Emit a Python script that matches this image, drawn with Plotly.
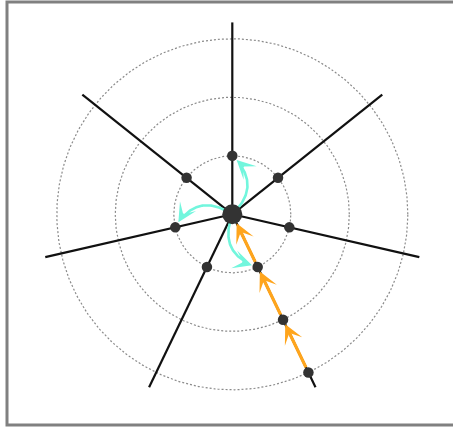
import numpy as np
import plotly.graph_objects as go

# ---- data ----
spoke_angles_deg = [90, 38.6, -12.9, -64.3, -115.7, -167.1, 141.4]
ring_radii = [1, 2, 3]
spoke_length = 3.28
node_spoke = [0, 1, 2, 3, 4, 5, 6, 3, 3]
node_ring = [1, 1, 1, 1, 1, 1, 1, 2, 3]
orange_spoke = 3
orange_rings = [3, 2, 1, 0]
cyan_target_spokes = [0, 5, 3]
cyan_target_ring = 1

# ---- layout geometry ----
W, H = 453, 427
PX = 58.5
CX, CY = 232.3, 214.3

def pos(spoke, r):
    a = np.deg2rad(spoke_angles_deg[spoke])
    return r * np.cos(a), r * np.sin(a)

fig = go.Figure()

# dotted rings
th = np.linspace(0, 2 * np.pi, 400)
for r in ring_radii:
    fig.add_trace(go.Scatter(x=r * np.cos(th), y=r * np.sin(th), mode="lines",
                             line=dict(color="#8a8a8a", width=1.2, dash="2px,2px"),
                             hoverinfo="skip", showlegend=False))

# spokes
for i in range(len(spoke_angles_deg)):
    x1, y1 = pos(i, spoke_length)
    fig.add_trace(go.Scatter(x=[0, x1], y=[0, y1], mode="lines",
                             line=dict(color="#111111", width=2.2),
                             hoverinfo="skip", showlegend=False))

# cyan curved arrows
cyan = "#72f6dd"
annotations = []
for s in cyan_target_spokes:
    tx, ty = pos(s, cyan_target_ring)
    mx, my = tx / 2, ty / 2
    L = np.hypot(tx, ty)
    px_, py_ = ty / L, -tx / L  # right-hand perpendicular
    k = 0.52 * L
    cx_, cy_ = mx + px_ * k, my + py_ * k
    t = np.linspace(0.05, 0.84, 60)
    bx = 2 * (1 - t) * t * cx_ + t ** 2 * tx
    by = 2 * (1 - t) * t * cy_ + t ** 2 * ty
    fig.add_trace(go.Scatter(x=bx, y=by, mode="lines",
                             line=dict(color=cyan, width=2.6),
                             hoverinfo="skip", showlegend=False))
    dx, dy = tx - cx_, ty - cy_
    dl = np.hypot(dx, dy)
    annotations.append(dict(x=tx, y=ty, ax=tx - dx / dl * 0.3, ay=ty - dy / dl * 0.3,
                            xref="x", yref="y", axref="x", ayref="y", text="",
                            showarrow=True, arrowhead=3, arrowsize=1.2,
                            arrowwidth=2.6, arrowcolor=cyan, standoff=6))

# orange arrows along one spoke
orange = "#ffa51c"
for a, b in zip(orange_rings[:-1], orange_rings[1:]):
    x0, y0 = pos(orange_spoke, a)
    x1, y1 = pos(orange_spoke, b)
    annotations.append(dict(x=x1, y=y1, ax=x0, ay=y0, xref="x", yref="y",
                            axref="x", ayref="y", text="", showarrow=True,
                            arrowhead=3, arrowsize=1.0, arrowwidth=3.2,
                            arrowcolor=orange,
                            standoff=10 if b == 0 else 5, startstandoff=4))

# nodes
nx = [pos(s, r)[0] for s, r in zip(node_spoke, node_ring)]
ny = [pos(s, r)[1] for s, r in zip(node_spoke, node_ring)]
fig.add_trace(go.Scatter(x=nx, y=ny, mode="markers",
                         marker=dict(color="#333333", size=10.5),
                         hoverinfo="skip", showlegend=False))
fig.add_trace(go.Scatter(x=[0], y=[0], mode="markers",
                         marker=dict(color="#333333", size=20),
                         hoverinfo="skip", showlegend=False))

fig.update_layout(
    width=W, height=H,
    margin=dict(l=0, r=0, t=0, b=0),
    paper_bgcolor="white", plot_bgcolor="white",
    xaxis=dict(range=[-CX / PX, (W - CX) / PX], visible=False, fixedrange=True),
    yaxis=dict(range=[-(H - CY) / PX, CY / PX], visible=False, fixedrange=True),
    annotations=annotations,
    shapes=[dict(type="rect", xref="paper", yref="paper",
                 x0=7 / W, x1=1.05, y0=1 - 425 / H, y1=1 - 2 / H,
                 line=dict(color="#808080", width=3), layer="above")],
)

fig.write_html("out.html", config={"displayModeBar": False},
               post_script="document.body.style.margin='0';")
